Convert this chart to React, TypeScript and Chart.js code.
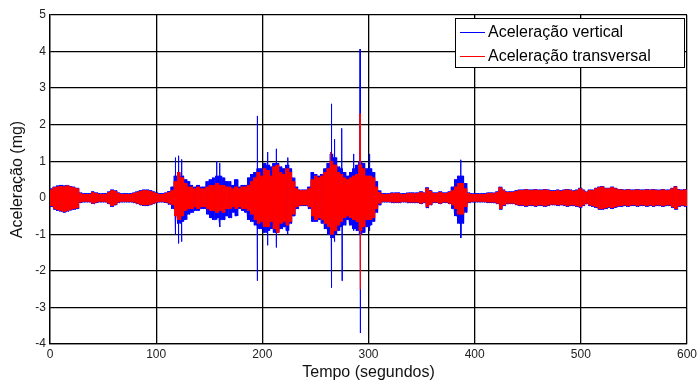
import React, { useEffect, useRef } from "react";
import { Chart, registerables } from "chart.js";

Chart.register(...registerables);

// Sampling step (seconds) of the envelope readings
const STEP = 3;
// Number of swings drawn inside each step between the read envelopes
const SWINGS = 5;
const X_TICKS = [0, 100, 200, 300, 400, 500, 600];
const Y_TICKS = [-4, -3, -2, -1, 0, 1, 2, 3, 4, 5];
const LABEL_V = "Aceleração vertical";
const LABEL_T = "Aceleração transversal";

// Aceleração vertical: dense band, upper / lower envelope every 3 s (mg)
const VERT_UP = [
  0.25,0.3,0.33,0.35,0.33,0.35,0.32,0.3,0.27,0.14,0.12,0.12,0.12,0.17,0.14,0.12,0.12,0.12,0.17,0.22,
  0.2,0.14,0.12,0.12,0.12,0.12,0.14,0.17,0.2,0.22,0.22,0.2,0.17,0.14,0.12,0.12,0.14,0.18,0.3,0.6,
  0.7,0.6,0.5,0.45,0.35,0.3,0.35,0.3,0.3,0.45,0.5,0.55,0.6,0.6,0.55,0.45,0.45,0.35,0.5,0.3,
  0.35,0.35,0.55,0.65,0.7,0.8,0.8,0.95,0.9,0.85,0.95,0.95,0.85,0.8,0.9,0.8,0.55,0.3,0.22,0.22,
  0.22,0.3,0.7,0.65,0.6,0.65,0.8,0.95,1.2,1.1,0.85,0.8,0.7,0.6,0.7,0.8,0.9,1.0,0.95,0.8,
  0.8,0.7,0.45,0.2,0.12,0.12,0.12,0.14,0.14,0.14,0.12,0.12,0.14,0.14,0.14,0.14,0.17,0.14,0.28,0.2,
  0.14,0.14,0.17,0.14,0.14,0.17,0.3,0.5,0.6,0.6,0.4,0.14,0.12,0.12,0.12,0.12,0.12,0.14,0.14,0.14,
  0.17,0.3,0.22,0.17,0.17,0.17,0.2,0.22,0.22,0.24,0.22,0.22,0.24,0.22,0.22,0.24,0.22,0.2,0.2,0.22,
  0.2,0.22,0.24,0.22,0.2,0.22,0.27,0.22,0.17,0.22,0.22,0.27,0.3,0.32,0.27,0.27,0.3,0.27,0.24,0.24,
  0.22,0.24,0.22,0.22,0.24,0.22,0.22,0.24,0.22,0.24,0.22,0.22,0.24,0.22,0.22,0.27,0.32,0.24,0.22,0.24,
];
const VERT_LO = [
  -0.25,-0.32,-0.35,-0.37,-0.4,-0.37,-0.34,-0.32,-0.3,-0.14,-0.12,-0.12,-0.12,-0.17,-0.14,-0.12,-0.12,-0.12,-0.17,-0.24,
  -0.2,-0.14,-0.12,-0.12,-0.12,-0.12,-0.14,-0.17,-0.2,-0.22,-0.22,-0.2,-0.17,-0.14,-0.12,-0.12,-0.14,-0.18,-0.3,-0.5,
  -0.7,-0.65,-0.6,-0.45,-0.4,-0.35,-0.35,-0.3,-0.3,-0.45,-0.55,-0.6,-0.55,-0.6,-0.6,-0.5,-0.55,-0.4,-0.5,-0.3,
  -0.35,-0.4,-0.6,-0.65,-0.75,-0.85,-0.85,-0.95,-0.9,-0.85,-0.95,-0.95,-0.85,-0.8,-0.9,-0.7,-0.5,-0.3,-0.22,-0.22,
  -0.22,-0.3,-0.65,-0.65,-0.6,-0.7,-0.85,-1.0,-1.1,-1.0,-0.9,-0.8,-0.75,-0.6,-0.75,-0.85,-0.9,-1.0,-0.95,-0.8,
  -0.75,-0.65,-0.4,-0.2,-0.12,-0.12,-0.12,-0.14,-0.14,-0.14,-0.12,-0.12,-0.14,-0.14,-0.14,-0.14,-0.17,-0.14,-0.28,-0.2,
  -0.14,-0.14,-0.17,-0.14,-0.14,-0.17,-0.3,-0.5,-0.7,-0.7,-0.4,-0.14,-0.12,-0.12,-0.12,-0.12,-0.12,-0.14,-0.14,-0.14,
  -0.17,-0.32,-0.22,-0.17,-0.17,-0.17,-0.2,-0.22,-0.22,-0.24,-0.22,-0.22,-0.24,-0.22,-0.22,-0.24,-0.22,-0.2,-0.2,-0.22,
  -0.2,-0.22,-0.24,-0.22,-0.22,-0.24,-0.27,-0.22,-0.17,-0.22,-0.24,-0.27,-0.32,-0.32,-0.3,-0.27,-0.3,-0.27,-0.24,-0.24,
  -0.22,-0.24,-0.22,-0.22,-0.24,-0.22,-0.22,-0.24,-0.22,-0.24,-0.22,-0.22,-0.24,-0.22,-0.22,-0.27,-0.32,-0.24,-0.22,-0.24,
];
// Aceleração vertical: isolated thin spikes (time s, peak, trough)
const VERT_SPIKE_T = [118, 121, 124, 157, 160, 195, 205, 213, 224, 265, 268, 275, 286, 292, 301, 387];
const VERT_SPIKE_HI = [1.1, 1.15, 1.05, 1.0, 0.95, 2.24, 1.25, 1.34, 1.1, 2.57, 1.6, 1.9, 1.2, 4.07, 1.2, 1.04];
const VERT_SPIKE_LO = [-1.0, -1.25, -1.2, -0.6, -0.8, -2.27, -1.3, -1.36, -1.0, -2.46, -1.2, -2.27, -0.9, -3.7, -0.9, -1.1];

// Aceleração transversal: dense band, upper / lower envelope every 3 s (mg)
const TRANS_UP = [
  0.22,0.28,0.3,0.32,0.3,0.33,0.3,0.28,0.25,0.12,0.1,0.1,0.1,0.15,0.12,0.1,0.1,0.1,0.15,0.2,
  0.18,0.12,0.1,0.1,0.1,0.1,0.12,0.15,0.18,0.2,0.2,0.18,0.15,0.12,0.1,0.1,0.12,0.15,0.2,0.45,
  0.7,0.55,0.4,0.3,0.3,0.25,0.3,0.25,0.25,0.3,0.35,0.35,0.4,0.35,0.35,0.3,0.3,0.25,0.3,0.25,
  0.3,0.3,0.35,0.45,0.55,0.7,0.6,0.8,0.75,0.6,0.85,0.9,0.7,0.65,0.8,0.7,0.45,0.25,0.2,0.2,
  0.2,0.25,0.5,0.6,0.55,0.6,0.7,0.8,1.0,0.9,0.7,0.65,0.55,0.5,0.55,0.6,0.65,0.9,0.8,0.6,
  0.6,0.55,0.3,0.15,0.1,0.1,0.1,0.12,0.12,0.12,0.1,0.1,0.12,0.12,0.12,0.12,0.15,0.12,0.25,0.18,
  0.12,0.12,0.15,0.12,0.12,0.15,0.2,0.3,0.4,0.4,0.25,0.12,0.1,0.1,0.1,0.1,0.1,0.12,0.12,0.12,
  0.15,0.28,0.2,0.15,0.15,0.15,0.18,0.2,0.2,0.22,0.2,0.2,0.22,0.2,0.2,0.22,0.2,0.18,0.18,0.2,
  0.18,0.2,0.22,0.2,0.18,0.2,0.25,0.2,0.15,0.2,0.2,0.25,0.28,0.3,0.25,0.25,0.28,0.25,0.22,0.22,
  0.2,0.22,0.2,0.2,0.22,0.2,0.2,0.22,0.2,0.22,0.2,0.2,0.22,0.2,0.2,0.25,0.3,0.22,0.2,0.22,
];
const TRANS_LO = [
  -0.22,-0.3,-0.33,-0.35,-0.38,-0.35,-0.32,-0.3,-0.28,-0.12,-0.1,-0.1,-0.1,-0.15,-0.12,-0.1,-0.1,-0.1,-0.15,-0.22,
  -0.18,-0.12,-0.1,-0.1,-0.1,-0.1,-0.12,-0.15,-0.18,-0.2,-0.2,-0.18,-0.15,-0.12,-0.1,-0.1,-0.12,-0.15,-0.2,-0.5,
  -0.6,-0.5,-0.35,-0.3,-0.3,-0.25,-0.3,-0.25,-0.25,-0.3,-0.35,-0.35,-0.4,-0.35,-0.4,-0.3,-0.3,-0.25,-0.3,-0.25,
  -0.3,-0.3,-0.35,-0.45,-0.6,-0.7,-0.65,-0.8,-0.8,-0.65,-0.85,-0.95,-0.7,-0.65,-0.75,-0.65,-0.45,-0.25,-0.2,-0.2,
  -0.2,-0.25,-0.5,-0.6,-0.55,-0.6,-0.7,-0.8,-1.0,-0.9,-0.75,-0.65,-0.55,-0.5,-0.55,-0.6,-0.65,-0.9,-0.8,-0.6,
  -0.6,-0.55,-0.3,-0.15,-0.1,-0.1,-0.1,-0.12,-0.12,-0.12,-0.1,-0.1,-0.12,-0.12,-0.12,-0.12,-0.15,-0.12,-0.25,-0.18,
  -0.12,-0.12,-0.15,-0.12,-0.12,-0.15,-0.2,-0.3,-0.45,-0.45,-0.25,-0.12,-0.1,-0.1,-0.1,-0.1,-0.1,-0.12,-0.12,-0.12,
  -0.15,-0.3,-0.2,-0.15,-0.15,-0.15,-0.18,-0.2,-0.2,-0.22,-0.2,-0.2,-0.22,-0.2,-0.2,-0.22,-0.2,-0.18,-0.18,-0.2,
  -0.18,-0.2,-0.22,-0.2,-0.2,-0.22,-0.25,-0.2,-0.15,-0.2,-0.22,-0.25,-0.3,-0.3,-0.28,-0.25,-0.28,-0.25,-0.22,-0.22,
  -0.2,-0.22,-0.2,-0.2,-0.22,-0.2,-0.2,-0.22,-0.2,-0.22,-0.2,-0.2,-0.22,-0.2,-0.2,-0.25,-0.3,-0.22,-0.2,-0.22,
];
// Aceleração transversal: isolated thin spikes (time s, peak, trough)
const TRANS_SPIKE_T = [264, 292];
const TRANS_SPIKE_HI = [1.25, 2.3];
const TRANS_SPIKE_LO = [-1.0, -2.5];

// Oscillating trace swinging between the read envelopes, plus the read spikes
function trace(up: number[], lo: number[], st: number[], sh: number[], sl: number[]) {
  const pts: { x: number; y: number }[] = [];
  const dt = STEP / (2 * SWINGS);
  up.forEach((u, i) => {
    for (let k = 0; k < SWINGS; k++) {
      pts.push({ x: i * STEP + 2 * k * dt, y: u });
      pts.push({ x: i * STEP + (2 * k + 1) * dt, y: lo[i] });
    }
  });
  st.forEach((t, j) => {
    pts.push({ x: t + 0.01, y: sh[j] });
    pts.push({ x: t + 0.05, y: sl[j] });
  });
  pts.sort((a, b) => a.x - b.x);
  return pts;
}

const FONT = "'Liberation Sans', Arial, sans-serif";

const legendPlugin = {
  id: "boxLegend",
  afterDraw(chart: any) {
    const { ctx, chartArea } = chart;
    const w = 230, h = 50;
    const x0 = chartArea.right - w - 2;
    const y0 = chartArea.top + 3;
    ctx.save();
    ctx.fillStyle = "#fff";
    ctx.fillRect(x0, y0, w, h);
    ctx.strokeStyle = "#000";
    ctx.lineWidth = 1;
    ctx.strokeRect(x0 + 0.5, y0 + 0.5, w - 1, h - 1);
    ctx.font = `16px ${FONT}`;
    ctx.textBaseline = "middle";
    chart.data.datasets.forEach((ds: any, i: number) => {
      const yy = y0 + 14 + i * 24;
      ctx.strokeStyle = ds.borderColor;
      ctx.lineWidth = 1;
      ctx.beginPath();
      ctx.moveTo(x0 + 5, yy + 0.5);
      ctx.lineTo(x0 + 30, yy + 0.5);
      ctx.stroke();
      ctx.fillStyle = "#000";
      ctx.fillText(ds.label, x0 + 33, yy + 1);
    });
    ctx.restore();
  },
};

export default function App() {
  const ref = useRef<HTMLCanvasElement | null>(null);
  useEffect(() => {
    document.body.style.margin = "0";
    const chart = new Chart(ref.current!, {
      type: "line",
      data: {
        datasets: [
          {
            label: LABEL_V,
            data: trace(VERT_UP, VERT_LO, VERT_SPIKE_T, VERT_SPIKE_HI, VERT_SPIKE_LO),
            borderColor: "#0000ff",
            borderWidth: 1,
            pointRadius: 0,
            tension: 0,
            order: 2,
          },
          {
            label: LABEL_T,
            data: trace(TRANS_UP, TRANS_LO, TRANS_SPIKE_T, TRANS_SPIKE_HI, TRANS_SPIKE_LO),
            borderColor: "#ff0000",
            borderWidth: 1,
            pointRadius: 0,
            tension: 0,
            order: 1,
          },
        ],
      },
      options: {
        animation: false,
        responsive: false,
        parsing: false,
        normalized: true,
        layout: { padding: { top: 15, right: 10, left: 0, bottom: 0 } },
        plugins: { legend: { display: false }, tooltip: { enabled: false } },
        scales: {
          x: {
            type: "linear",
            min: 0,
            max: 600,
            afterBuildTicks: (s: any) => {
              s.ticks = X_TICKS.map((v) => ({ value: v }));
            },
            afterFit: (s: any) => {
              s.height = 41;
            },
            ticks: { color: "#222", font: { size: 12, family: FONT }, padding: 3, maxRotation: 0 },
            grid: { color: "#000", lineWidth: 1.3, drawTicks: false },
            border: { color: "#000", width: 1.3 },
            title: {
              display: true,
              text: "Tempo (segundos)",
              color: "#111",
              font: { size: 16, family: FONT },
              padding: { top: 0, bottom: 3 },
            },
          },
          y: {
            type: "linear",
            min: -4,
            max: 5,
            afterBuildTicks: (s: any) => {
              s.ticks = Y_TICKS.map((v) => ({ value: v }));
            },
            afterFit: (s: any) => {
              s.width = 50;
            },
            ticks: { color: "#222", font: { size: 12, family: FONT }, padding: 4 },
            grid: { color: "#000", lineWidth: 1.3, drawTicks: false },
            border: { color: "#000", width: 1.3 },
            title: {
              display: true,
              text: "Aceleração (mg)",
              color: "#111",
              font: { size: 16, family: FONT },
              padding: { top: 8, bottom: 0 },
            },
          },
        },
      },
      plugins: [legendPlugin],
    });
    return () => chart.destroy();
  }, []);
  return (
    <div style={{ width: 700, height: 385, background: "#fff" }}>
      <canvas ref={ref} width={700} height={385} style={{ display: "block" }} />
    </div>
  );
}
